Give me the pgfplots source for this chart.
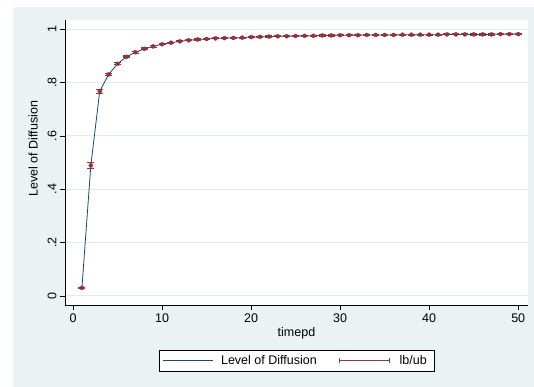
\documentclass[border=0pt]{standalone}
\usepackage{fontspec}
\setmainfont{Liberation Sans}
\usepackage{pgfplots}
\usepackage{pgfplotstable}
\pgfplotsset{compat=1.18}
\definecolor{stnavy}{RGB}{26,71,111}
\definecolor{stmaroon}{RGB}{144,53,59}
\definecolor{stbg}{RGB}{234,242,243}
\definecolor{stgrid}{RGB}{226,235,237}
\newcommand\stfont{\fontsize{12.5bp}{15bp}\selectfont}

\pgfplotstableread{
t y e
1 0.030 0.002
2 0.489 0.011
3 0.767 0.007
4 0.830 0.005
5 0.870 0.004
6 0.896 0.003
7 0.913 0.003
8 0.926 0.003
9 0.935 0.003
10 0.943 0.002
11 0.949 0.002
12 0.954 0.002
13 0.958 0.002
14 0.961 0.002
15 0.963 0.002
16 0.965 0.002
17 0.966 0.002
18 0.967 0.002
19 0.968 0.002
20 0.970 0.002
21 0.971 0.002
22 0.972 0.002
23 0.973 0.002
24 0.973 0.002
25 0.974 0.002
26 0.975 0.002
27 0.975 0.002
28 0.976 0.002
29 0.976 0.002
30 0.977 0.002
31 0.977 0.002
32 0.977 0.002
33 0.978 0.002
34 0.978 0.002
35 0.978 0.002
36 0.978 0.002
37 0.979 0.002
38 0.979 0.002
39 0.979 0.002
40 0.979 0.002
41 0.979 0.002
42 0.980 0.002
43 0.980 0.002
44 0.980 0.002
45 0.980 0.003
46 0.980 0.003
47 0.980 0.003
48 0.981 0.002
49 0.981 0.002
50 0.981 0.002
}\diffdata

\begin{document}
\begin{tikzpicture}
\useasboundingbox (-65bp,-82bp) rectangle (469bp,305bp);
\fill[white] (-65bp,-82bp) rectangle (469bp,305bp);
\fill[stbg] (-52bp,-82bp) rectangle (469bp,298bp);
\begin{axis}[
  at={(0,0)}, anchor=south west,
  scale only axis, width=463bp, height=285bp,
  xmin=-0.9, xmax=51.1, ymin=-0.034, ymax=1.034,
  axis background/.style={fill=white},
  axis lines*=left, axis line style={-, black, line width=0.6bp},
  tick align=outside, major tick length=5bp,
  every tick/.style={black, line width=0.6bp},
  xtick={0,10,20,30,40,50},
  ytick={0,0.2,0.4,0.6,0.8,1},
  yticklabels={0,.2,.4,.6,.8,1},
  /pgf/number format/assume math mode=true,
  ymajorgrids, grid style={stgrid, line width=0.9bp},
  tick label style={font=\stfont},
  yticklabel style={rotate=90, anchor=south},
  label style={font=\stfont},
  xlabel={timepd},
  ylabel={Level of Diffusion},
  xlabel style={at={(axis description cs:0.5,-0.098)}, anchor=center},
  ylabel style={at={(axis description cs:-0.069,0.549)}, anchor=center, rotate=0},
  legend columns=2,
  legend cell align=left,
  legend style={at={(axis description cs:0.5,-0.196)}, anchor=center,
    draw=black, fill=white, font=\stfont, inner xsep=3bp, inner ysep=3bp,
    nodes={inner xsep=4bp},
    /tikz/every even column/.append style={column sep=18bp}},
]
\addplot[stnavy, line width=0.8bp, mark=none,
  legend image code/.code={\draw[stnavy, line width=0.8bp] (0bp,0bp) -- (50bp,0bp);}]
  table[x=t, y=y] {\diffdata};
\addlegendentry{\hspace{4bp}Level of Diffusion}
\addplot[stmaroon, only marks, mark=none,
  error bars/.cd, y dir=both, y explicit,
  error bar style={line width=1.1bp, stmaroon},
  error mark options={rotate=90, mark size=3.5bp, line width=1.1bp, stmaroon},
  /pgfplots/legend image code/.code={\draw[stmaroon, line width=0.9bp] (0bp,0bp) -- (50bp,0bp) (0bp,-2.5bp) -- (0bp,2.5bp) (50bp,-2.5bp) -- (50bp,2.5bp);}]
  table[x=t, y=y, y error=e] {\diffdata};
\addlegendentry{\hspace{6bp}lb/ub}
\end{axis}
\end{tikzpicture}
\end{document}
